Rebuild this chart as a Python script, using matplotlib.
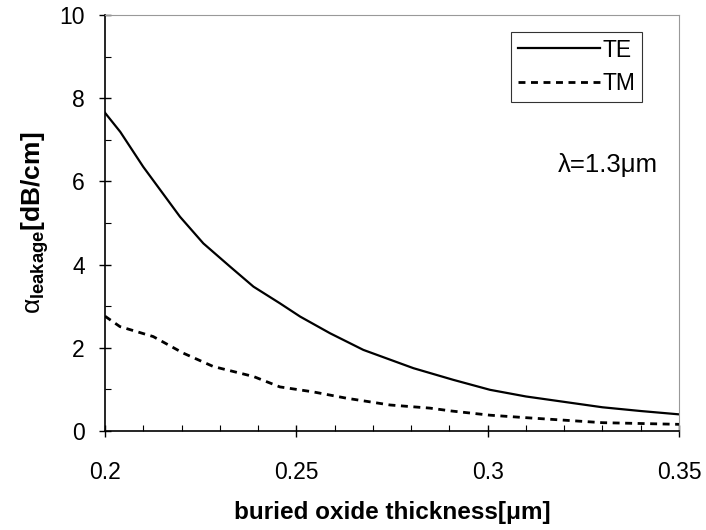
import matplotlib
matplotlib.use("Agg")
import matplotlib.pyplot as plt
from matplotlib.ticker import MultipleLocator

plt.rcParams['font.family'] = ['Liberation Sans', 'DejaVu Sans']
plt.rcParams['mathtext.fontset'] = 'custom'
plt.rcParams['mathtext.rm'] = 'Liberation Sans'
plt.rcParams['mathtext.it'] = 'Liberation Sans'
plt.rcParams['mathtext.bf'] = 'Liberation Sans:bold'

# TE mode leakage loss
te_x = [0.200, 0.204, 0.210, 0.2196, 0.2257, 0.2327, 0.2388, 0.2457, 0.251,
        0.2588, 0.2675, 0.2806, 0.291, 0.3006, 0.31, 0.32, 0.33, 0.34, 0.35]
te_y = [7.65, 7.19, 6.35, 5.15, 4.51, 3.95, 3.47, 3.07, 2.75,
        2.35, 1.95, 1.51, 1.23, 0.99, 0.83, 0.70, 0.57, 0.48, 0.40]

# TM mode leakage loss
tm_x = [0.200, 0.2039, 0.2126, 0.2205, 0.2283, 0.2388, 0.2457, 0.2544,
        0.263, 0.2745, 0.2849, 0.2906, 0.3006, 0.31, 0.33, 0.35]
tm_y = [2.76, 2.51, 2.27, 1.87, 1.55, 1.31, 1.06, 0.94,
        0.79, 0.625, 0.55, 0.48, 0.38, 0.32, 0.20, 0.16]

fig = plt.figure(figsize=(7.06, 5.30), dpi=100)
ax = fig.add_axes([0.1487, 0.1868, 0.8131, 0.7849])

ax.plot(te_x, te_y, color='black', lw=1.6, label='TE')
ax.plot(tm_x, tm_y, color='black', lw=2.0, linestyle=(0, (2.5, 2)), label='TM')

ax.set_xlim(0.2, 0.35)
ax.set_ylim(0, 10)
ax.xaxis.set_minor_locator(MultipleLocator(0.01))
ax.yaxis.set_major_locator(MultipleLocator(2))
ax.yaxis.set_minor_locator(MultipleLocator(1))
ax.set_xticks([0.2, 0.25, 0.3, 0.35])
ax.set_xticklabels(['0.2', '0.25', '0.3', '0.35'])

ax.tick_params(axis='x', which='major', direction='inout', length=9, width=1, pad=17, labelsize=16.5)
ax.tick_params(axis='y', which='major', direction='inout', length=9, width=1, pad=10, labelsize=16.5)
ax.tick_params(which='minor', direction='in', length=4, width=0.8)

for s in ['top', 'right']:
    ax.spines[s].set_color('0.6')
    ax.spines[s].set_linestyle((0, (1, 1)))
    ax.spines[s].set_linewidth(0.8)
for s in ['left', 'bottom']:
    ax.spines[s].set_linewidth(1.2)

ax.set_xlabel('buried oxide thickness[\u03bcm]', fontsize=17.5, fontweight='bold', labelpad=12)
ax.set_ylabel(r'$\alpha_{\mathbf{leakage}}\mathbf{[dB/cm]}$', fontsize=19, labelpad=6)

ax.text(0.3184, 6.39, '\u03bb=1.3\u03bcm', fontsize=18.5, va='center', ha='left')

lgd = ax.legend(loc='upper right', bbox_to_anchor=(0.936, 0.96), fontsize=16.5,
                frameon=True, fancybox=False, edgecolor='black', handlelength=3.6,
                handletextpad=0.1, borderpad=0.3, labelspacing=0.45, borderaxespad=0)
lgd.get_frame().set_linewidth(0.8)

plt.savefig('out.png', dpi=100)
